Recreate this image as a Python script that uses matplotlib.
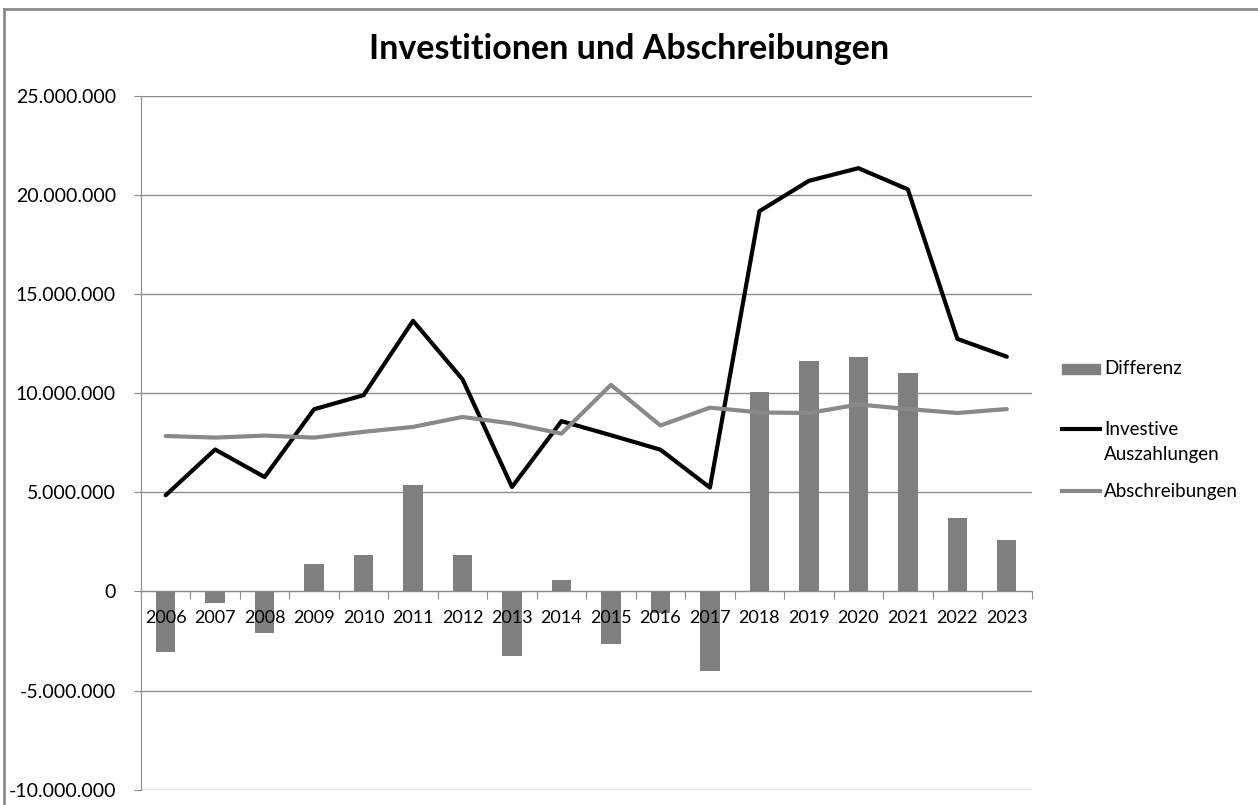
import numpy as np
import matplotlib
matplotlib.use("Agg")
import matplotlib.pyplot as plt
from matplotlib.lines import Line2D
from matplotlib.patches import Rectangle
from matplotlib.ticker import FuncFormatter, FixedLocator
from matplotlib.transforms import offset_copy

# ── Data ──────────────────────────────────────────────────────────────────────
years = ["2006", "2007", "2008", "2009", "2010", "2011", "2012", "2013", "2014",
         "2015", "2016", "2017", "2018", "2019", "2020", "2021", "2022", "2023"]
investive = [4.85, 7.16, 5.77, 9.19, 9.90, 13.65, 10.70, 5.27, 8.59,
             7.88, 7.15, 5.24, 19.18, 20.71, 21.35, 20.28, 12.74, 11.84]
abschreibungen = [7.84, 7.76, 7.86, 7.76, 8.05, 8.30, 8.80, 8.47, 7.96,
                  10.42, 8.37, 9.27, 9.03, 9.00, 9.43, 9.20, 9.00, 9.20]
differenz = [-3.04, -0.57, -2.11, 1.39, 1.86, 5.39, 1.86, -3.24, 0.59,
             -2.64, -1.10, -3.99, 10.07, 11.63, 11.84, 11.04, 3.68, 2.60]
y_ticks = [-10, -5, 0, 5, 10, 15, 20, 25]  # in millions

FONT = "Lato"
BAR_COL = "#7f7f7f"
LINE_GREY = "#898989"
GRID_COL = "#8c8c8c"
W, H = 1258, 805
LEG_FS = 13.5

plt.rcParams["font.family"] = FONT

fig = plt.figure(figsize=(W / 100, H / 100), dpi=100)
ax = fig.add_axes([0.112, 0.019, 0.708, 0.862])

x = np.arange(len(years))
scale = 1e6
ax.bar(x, np.array(differenz) * scale, width=0.39, color=BAR_COL, zorder=2)
ax.plot(x, np.array(investive) * scale, color="black", lw=3, zorder=3,
        solid_joinstyle="round", solid_capstyle="round")
ax.plot(x, np.array(abschreibungen) * scale, color=LINE_GREY, lw=3, zorder=3,
        solid_joinstyle="round", solid_capstyle="round")

ax.set_xlim(-0.5, len(years) - 0.5)
ax.set_ylim(-10 * scale, 25 * scale)

# y axis
ax.yaxis.set_major_locator(FixedLocator([v * scale for v in y_ticks]))
ax.yaxis.set_major_formatter(FuncFormatter(lambda v, _: f"{v:,.0f}".replace(",", ".")))
ax.yaxis.grid(True, color=GRID_COL, lw=1.0)
ax.set_axisbelow(True)
ax.tick_params(axis="y", direction="out", length=5, color=GRID_COL,
               labelsize=14, pad=13)

# x axis sits on zero line, ticks between categories
ax.spines["bottom"].set_position(("data", 0))
ax.spines["bottom"].set_color(GRID_COL)
ax.spines["left"].set_color(GRID_COL)
ax.spines["top"].set_visible(False)
ax.spines["right"].set_visible(False)
ax.set_xticks(np.arange(len(years) + 1) - 0.5)
ax.set_xticklabels([])
ax.tick_params(axis="x", which="major", direction="out", length=6, color=GRID_COL)

# year labels drawn over the bars, just under the zero line
lab_tr = offset_copy(ax.transData, fig=fig, y=-27, units="dots")
for xi, yr in zip(x, years):
    ax.text(xi, 0, yr, transform=lab_tr, ha="center", va="center",
            fontsize=13, zorder=5)

fig.text(0.5, 1 - 49 / H, "Investitionen und Abschreibungen", ha="center",
         va="center", fontsize=24.5, fontweight="bold")

# legend, built by hand so the line handle sits on the first text line
def fx(px):
    return px / W


def fy(py):
    return 1 - py / H


fig.add_artist(Rectangle((fx(1062), fy(374)), fx(1100) - fx(1062), 10 / H,
                         transform=fig.transFigure, color=BAR_COL))
fig.text(fx(1104), fy(369), "Differenz", va="center", fontsize=LEG_FS)
fig.add_artist(Line2D([fx(1062), fx(1100)], [fy(429), fy(429)], color="black",
                      lw=3, transform=fig.transFigure))
fig.text(fx(1104), fy(429), "Investive", va="center", fontsize=LEG_FS)
fig.text(fx(1104), fy(454), "Auszahlungen", va="center", fontsize=LEG_FS)
fig.add_artist(Line2D([fx(1062), fx(1100)], [fy(491), fy(491)], color=LINE_GREY,
                      lw=3, transform=fig.transFigure))
fig.text(fx(1104), fy(491), "Abschreibungen", va="center", fontsize=LEG_FS)

# chart frame (top and left edges visible)
fig.add_artist(Line2D([fx(4), fx(4)], [0, fy(9)], color=GRID_COL, lw=2,
                      transform=fig.transFigure))
fig.add_artist(Line2D([fx(4), 1], [fy(9), fy(9)], color=GRID_COL, lw=2,
                      transform=fig.transFigure))

fig.patch.set_facecolor("white")
fig.savefig("out.png", dpi=100)
